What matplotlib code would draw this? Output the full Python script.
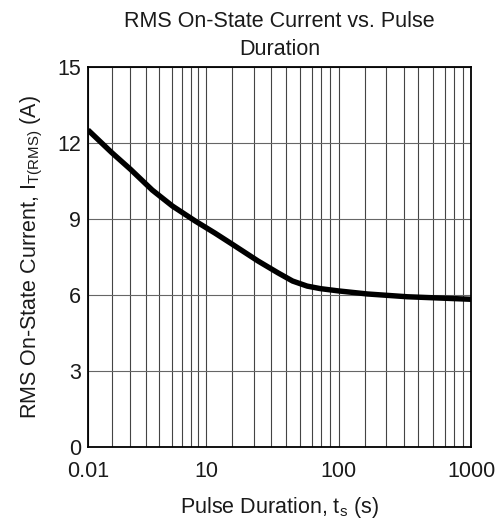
import numpy as np
import matplotlib
matplotlib.use("Agg")
import matplotlib.pyplot as plt

# curve
duration = [0.01, 0.04, 0.12, 0.43, 1.4, 5.3, 11.7, 15.7, 24.7, 35, 45, 58, 73, 100, 165, 330, 1000]
current = [12.52, 11.63, 10.97, 10.15, 9.52, 8.93, 8.45, 8.02, 7.35, 6.88, 6.56, 6.36, 6.26, 6.17, 6.05, 5.94, 5.84]

x_ticks = [0.01, 10, 100, 1000]
x_labels = ["0.01", "10", "100", "1000"]
y_ticks = [0, 3, 6, 9, 12, 15]

plt.rcParams["font.family"] = ["Liberation Sans", "DejaVu Sans"]
plt.rcParams["mathtext.fontset"] = "custom"
plt.rcParams["mathtext.rm"] = "Liberation Sans"
plt.rcParams["mathtext.it"] = "Liberation Sans"

# the axis is a broken log: 0.01..10 squeezed into one short section, then two decades
SEG1 = 0.89


def fwd(x):
    lx = np.log10(np.clip(np.asarray(x, float), 1e-6, None))
    return np.where(lx <= 1, SEG1 * (lx + 2) / 3, SEG1 + lx - 1)


def inv(u):
    u = np.asarray(u, float)
    return np.where(u <= SEG1, 10 ** (3 * u / SEG1 - 2), 10 ** (u - SEG1 + 1))


# grid spacing inside each section, as drawn on the original sheet
frac = np.array([0.2, 0.36, 0.49, 0.6, 0.71, 0.8, 0.87, 0.935])
minor = np.concatenate([10 ** (-2 + 3 * frac), 10 ** (1 + frac), 10 ** (2 + frac)])

FS = 15.5
fig = plt.figure(figsize=(4.97, 5.23), dpi=100)
ax = fig.add_axes([0.177, 0.1447, 0.771, 0.727])
ax.set_xscale("function", functions=(fwd, inv))
ax.plot(duration, current, color="black", lw=3.9, solid_joinstyle="round",
        solid_capstyle="butt", zorder=3)

ax.set_xlim(0.01, 1000)
ax.set_ylim(0, 15)
ax.set_xticks(x_ticks, labels=x_labels)
ax.set_xticks(minor, minor=True)
ax.set_yticks(y_ticks)
ax.grid(which="both", axis="x", color="#444444", lw=0.8)
ax.grid(which="major", axis="y", color="#666666", lw=0.8)
ax.tick_params(which="both", length=0, labelsize=FS, colors="#1a1a1a")
ax.tick_params(axis="x", pad=10)
ax.tick_params(axis="y", pad=5)
for s in ax.spines.values():
    s.set_linewidth(1.3)

ax.set_title("RMS On-State Current vs. Pulse\nDuration", fontsize=FS, color="#1a1a1a",
             linespacing=1.4, pad=9)
ax.set_xlabel(r"Pulse Duration, t$_\mathrm{s}$ (s)", fontsize=FS, color="#1a1a1a", labelpad=9)
ax.set_ylabel(r"RMS On-State Current, I$_\mathrm{T(RMS)}$ (A)", fontsize=FS, color="#1a1a1a",
              labelpad=9)

fig.savefig("out.png", dpi=100)
